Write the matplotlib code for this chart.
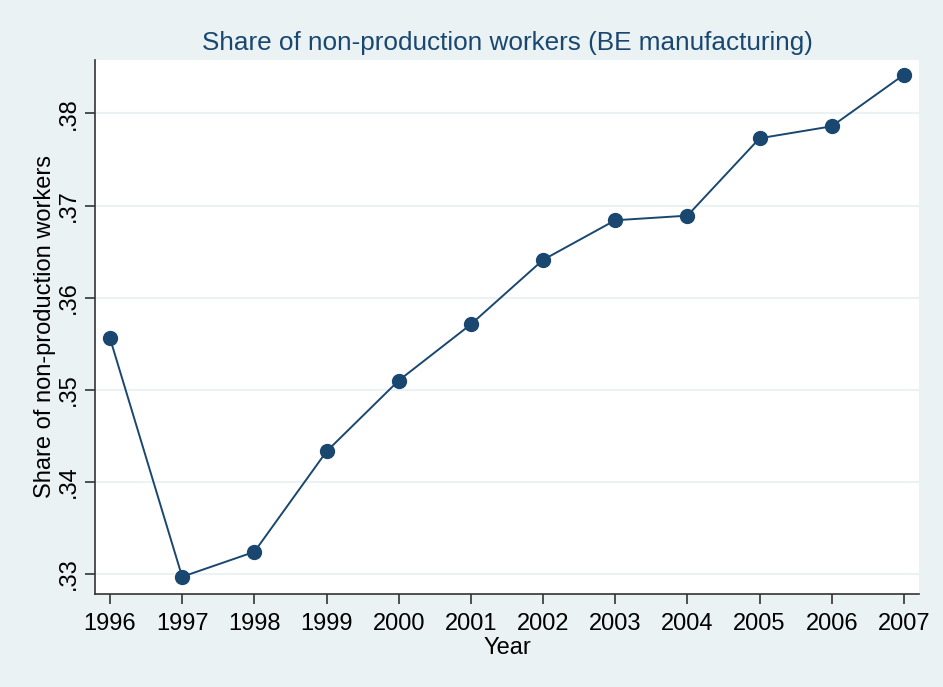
import matplotlib.pyplot as plt

years = [1996, 1997, 1998, 1999, 2000, 2001, 2002, 2003, 2004, 2005, 2006, 2007]
share = [0.3556, 0.3297, 0.3324, 0.3433, 0.3510, 0.3571, 0.3641, 0.3684, 0.3689, 0.3773, 0.3786, 0.3842]
yticks = [0.33, 0.34, 0.35, 0.36, 0.37, 0.38]
ytick_labels = ['.33', '.34', '.35', '.36', '.37', '.38']

plt.rcParams['font.family'] = ['Liberation Sans', 'DejaVu Sans']

bg = '#EAF2F3'
navy = '#1A476F'

fig = plt.figure(figsize=(9.43, 6.87), dpi=100, facecolor=bg)
ax = fig.add_axes([0.1007, 0.1354, 0.8738, 0.7773])
ax.set_facecolor('white')

ax.plot(years, share, color=navy, linewidth=1.4, marker='o', markersize=10,
        zorder=3)

ax.set_xlim(1995.792, 2007.208)
ax.set_ylim(0.32783, 0.3858)
ax.set_xticks(years)
ax.set_xticklabels([str(y) for y in years], fontsize=17)
ax.set_yticks(yticks)
ax.set_yticklabels(ytick_labels, fontsize=17, rotation=90, va='center')
ax.grid(axis='y', color=bg, linewidth=1.5, zorder=0)
ax.set_axisbelow(True)

for s in ['top', 'right']:
    ax.spines[s].set_visible(False)
for s in ['left', 'bottom']:
    ax.spines[s].set_color('#333333')
    ax.spines[s].set_linewidth(1.2)
ax.tick_params(axis='both', direction='out', length=7, width=1.2, color='#333333',
               labelcolor='black')
ax.tick_params(axis='x', pad=7)
ax.tick_params(axis='y', pad=4)

ax.set_xlabel('Year', fontsize=17, labelpad=1)
ax.set_ylabel('Share of non-production workers', fontsize=17, labelpad=1)
ax.set_title('Share of non-production workers (BE manufacturing)', fontsize=18.8,
             color=navy, pad=7)

fig.savefig('out.png', dpi=100, facecolor=bg)
